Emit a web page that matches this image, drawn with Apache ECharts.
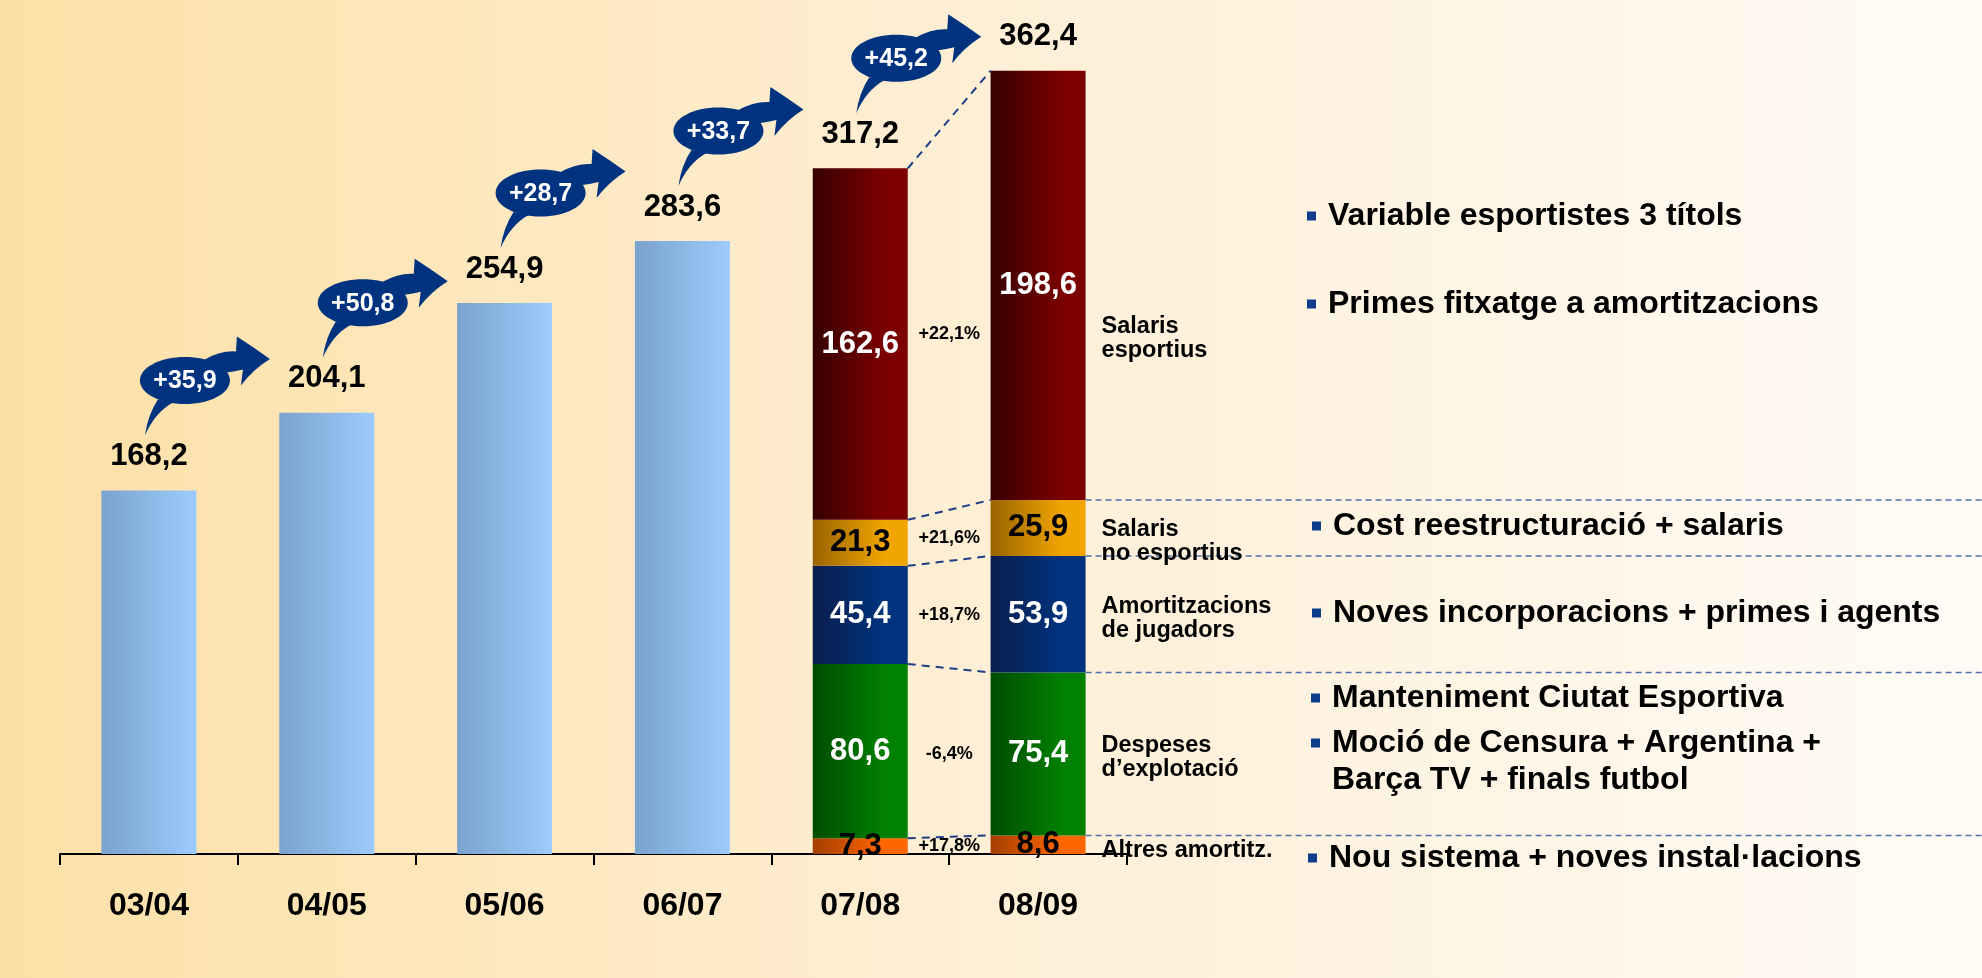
<!DOCTYPE html>
<html>
<head>
<meta charset="utf-8">
<title>Despeses FCB</title>
<script src="https://cdn.jsdelivr.net/npm/echarts@6/dist/echarts.min.js"></script>
<style>
	html, body { margin: 0; padding: 0; }
	#chart { width: 1982px; height: 978px; }
</style>
</head>
<body>
<div id="chart"></div>
<script>
	// dades llegides del gràfic (M€)
	const seasons = ['03/04', '04/05', '05/06', '06/07', '07/08', '08/09'];
	const totals = [168.2, 204.1, 254.9, 283.6, 317.2, 362.4];
	const growth = [35.9, 50.8, 28.7, 33.7, 45.2];

	// desglossament 07/08 i 08/09, de baix a dalt
	const segNames = ['Altres amortitz.', 'Despeses\nd’explotació', 'Amortitzacions\nde jugadors', 'Salaris\nno esportius', 'Salaris\nesportius'];
	const seg0708 = [7.3, 80.6, 45.4, 21.3, 162.6];
	const seg0809 = [8.6, 75.4, 53.9, 25.9, 198.6];
	const segChange = [17.8, -6.4, 18.7, 21.6, 22.1];

	const notes = [
		['Variable esportistes 3 títols'],
		['Primes fitxatge a amortitzacions'],
		['Cost reestructuració + salaris'],
		['Noves incorporacions + primes i agents'],
		['Manteniment Ciutat Esportiva'],
		['Moció de Censura + Argentina +', 'Barça TV + finals futbol'],
		['Nou sistema + noves instal·lacions']
	];

	const FONT = '"Liberation Sans", Arial, Helvetica, sans-serif';
	const BAR_W = 95;
	const NAVY = '#00337f';

	const segColors = [
		['#a43f00', '#ff6600'],
		['#004c00', '#008000'],
		['#0a1e4c', '#00337f'],
		['#996300', '#f0a500'],
		['#360000', '#7c0000']
	];
	const segLabelColor = ['#000', '#fff', '#fff', '#000', '#fff'];

	const fmt = v => v.toFixed(1).replace('.', ',');
	const hgrad = (a, b, mid) => new echarts.graphic.LinearGradient(0, 0, 1, 0, [
		{ offset: 0, color: a },
		{ offset: mid, color: b },
		{ offset: 1, color: b }
	]);
	const cum = arr => arr.reduce((acc, v) => {
		acc.push((acc.length ? acc[acc.length - 1] : 0) + v);
		return acc;
	}, []);
	const top0708 = cum(seg0708);
	const top0809 = cum(seg0809);

	// forma de la bombolla amb fletxa, relativa al centre de l'el·lipse
	const ARROW_PATH = 'M 20 -21 Q 36 -30 51 -29 L 52 -44 Q 69 -33 85 -21.5 Q 68 -11 56 5 L 58 -11 Q 50 -9 42 -8 Z ' +
		'M -27 19 Q -37 34 -40 55 Q -30 32 -12 22 Z';

	const myChart = echarts.init(document.getElementById('chart'));

	const series = [{
		type: 'bar',
		name: 'Total',
		data: totals.map((v, i) => i < 4 ? v : '-'),
		barWidth: BAR_W,
		barGap: '-100%',
		itemStyle: { color: hgrad('#7aa3cd', '#9dcbfd', 1) }
	}];

	segNames.forEach((n, k) => {
		series.push({
			type: 'bar',
			name: n,
			stack: 'desglos',
			barWidth: BAR_W,
			barGap: '-100%',
			data: seasons.map((s, i) => i === 4 ? seg0708[k] : (i === 5 ? seg0809[k] : '-')),
			itemStyle: { color: hgrad(segColors[k][0], segColors[k][1], 0.75) },
			label: {
				show: true,
				position: 'inside',
				formatter: p => fmt(p.value),
				fontFamily: FONT,
				fontSize: 31,
				fontWeight: 'bold',
				color: segLabelColor[k],
				textBorderWidth: 0
			}
		});
	});

	// totals a sobre de cada columna
	series.push({
		type: 'scatter',
		data: totals,
		symbolSize: 1,
		itemStyle: { color: 'rgba(0,0,0,0)', opacity: 1 },
		label: {
			show: true,
			position: 'top',
			distance: 18,
			formatter: p => fmt(p.value),
			fontFamily: FONT,
			fontSize: 31,
			fontWeight: 'bold',
			color: '#000',
			opacity: 1
		},
		z: 5
	});

	// línies discontínues entre 07/08 i 08/09
	series.push({
		type: 'custom',
		data: top0708.map((v, k) => [4, v, top0809[k], k < 4 ? 1 : 0]),
		encode: { x: 0, y: 1 },
		z: 6,
		renderItem: function(params, api) {
			const a = api.coord([4, api.value(1)]);
			const b = api.coord([5, api.value(2)]);
			const half = BAR_W / 2;
			const children = [{
				type: 'line',
				shape: { x1: a[0] + half, y1: a[1], x2: b[0] - half, y2: b[1] },
				style: { stroke: '#1e3f87', lineWidth: 2, lineDash: [8, 6] }
			}];
			if (api.value(3)) {
				children.push({
					type: 'line',
					shape: { x1: b[0] + half, y1: b[1], x2: api.getWidth(), y2: b[1] },
					style: { stroke: '#5070ad', lineWidth: 1.5, lineDash: [6, 4] }
				});
			}
			return { type: 'group', children: children };
		}
	});

	// percentatges i noms de les partides
	series.push({
		type: 'custom',
		data: segNames.map((n, k) => [5, k]),
		encode: { x: 0, y: 1 },
		z: 6,
		renderItem: function(params, api) {
			const k = api.value(1);
			const lo = Math.max(top0708[k] - seg0708[k], top0809[k] - seg0809[k]);
			const hi = Math.min(top0708[k], top0809[k]);
			const mid = (lo + hi) / 2;
			const a = api.coord([4, mid]);
			const b = api.coord([5, mid]);
			const pct = (segChange[k] > 0 ? '+' : '') + fmt(segChange[k]) + '%';
			return {
				type: 'group',
				children: [{
					type: 'text',
					style: {
						text: pct, x: (a[0] + b[0]) / 2, y: a[1],
						align: 'center', textAlign: 'center',
						verticalAlign: 'middle', textVerticalAlign: 'middle',
						font: 'bold 18px ' + FONT, fill: '#000'
					}
				}, {
					type: 'text',
					style: {
						text: segNames[k], x: b[0] + BAR_W / 2 + 16, y: a[1] + 4,
						align: 'left', textAlign: 'left',
						verticalAlign: 'middle', textVerticalAlign: 'middle',
						lineHeight: 24,
						font: 'bold 23.5px ' + FONT, fill: '#000'
					}
				}]
			};
		}
	});

	// bombolles amb l'increment entre temporades
	series.push({
		type: 'custom',
		data: growth.map((g, i) => [i, totals[i], g]),
		encode: { x: 0, y: 1 },
		z: 7,
		renderItem: function(params, api) {
			const p = api.coord([api.value(0), api.value(1)]);
			return {
				type: 'group',
				x: p[0] + 36,
				y: p[1] - 110,
				children: [{
					type: 'path',
					shape: { pathData: ARROW_PATH },
					style: { fill: NAVY }
				}, {
					type: 'ellipse',
					shape: { cx: 0, cy: 0, rx: 45, ry: 23.5 },
					style: { fill: NAVY }
				}, {
					type: 'text',
					style: {
						text: '+' + fmt(api.value(2)), x: 0, y: 1,
						align: 'center', textAlign: 'center',
						verticalAlign: 'middle', textVerticalAlign: 'middle',
						font: 'bold 25px ' + FONT, fill: '#fff'
					}
				}]
			};
		}
	});

	// notes de la dreta
	const noteX = [1328, 1328, 1333, 1333, 1332, 1332, 1329];
	const noteY = [216, 304, 526, 613, 698, 743, 858];
	const graphic = [];
	notes.forEach((lines, i) => {
		graphic.push({
			type: 'rect',
			shape: { x: noteX[i] - 21, y: noteY[i] - 4.5, width: 9, height: 9 },
			style: { fill: '#0d3c8c' }
		});
		lines.forEach((t, j) => {
			graphic.push({
				type: 'text',
				x: noteX[i],
				y: noteY[i] + j * 37,
				style: {
					text: t,
					font: 'bold 32px ' + FONT,
					fill: '#000',
					verticalAlign: 'middle',
					textVerticalAlign: 'middle'
				}
			});
		});
	});

	const option = {
		animation: false,
		backgroundColor: {
			type: 'linear', x: 0, y: 0, x2: 1, y2: 0,
			colorStops: [
				{ offset: 0, color: '#fde0a6' },
				{ offset: 0.5, color: '#feefd6' },
				{ offset: 1, color: '#fffbf5' }
			]
		},
		grid: { left: 60, width: 1067, top: 11, height: 843 },
		xAxis: {
			type: 'category',
			data: seasons,
			axisLine: { lineStyle: { color: '#000', width: 2 } },
			axisTick: { show: true, length: 11, lineStyle: { color: '#000', width: 2 } },
			axisLabel: { margin: 36, fontFamily: FONT, fontSize: 32, fontWeight: 'bold', color: '#000' }
		},
		yAxis: { type: 'value', min: 0, max: 390, show: false },
		graphic: graphic,
		series: series
	};

	myChart.setOption(option);
</script>
</body>
</html>
